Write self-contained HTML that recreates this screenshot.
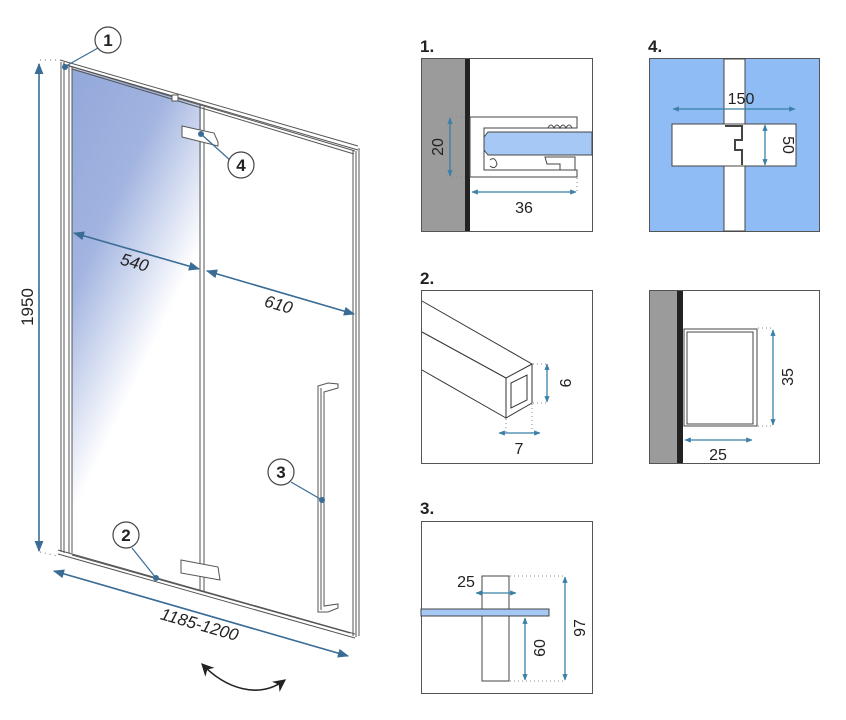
<!DOCTYPE html>
<html><head><meta charset="utf-8"><style>
html,body{margin:0;padding:0;background:#fff;}
svg{display:block;font-family:"Liberation Sans",Arial,sans-serif;}
</style></head><body>
<svg width="846" height="720" viewBox="0 0 846 720" xmlns="http://www.w3.org/2000/svg">
<defs>
<linearGradient id="gl" x1="0" y1="0" x2="0.55" y2="1">
<stop offset="0" stop-color="#92a8da"/>
<stop offset="0.35" stop-color="#a2b4e0"/>
<stop offset="0.7" stop-color="#ffffff"/>
<stop offset="1" stop-color="#ffffff"/>
</linearGradient>
<marker id="ar" viewBox="0 0 10 10" refX="9" refY="5" markerWidth="7" markerHeight="7" orient="auto-start-reverse"><path d="M0,1 L10,5 L0,9 z" fill="#3a6c96"/></marker>
<marker id="as" viewBox="0 0 10 10" refX="9" refY="5" markerWidth="5" markerHeight="5" orient="auto-start-reverse"><path d="M0,1 L10,5 L0,9 z" fill="#3a7fa8"/></marker>
<marker id="ak" viewBox="0 0 10 10" refX="9" refY="5" markerWidth="8" markerHeight="8" orient="auto-start-reverse"><path d="M0,0 L10,5 L0,10 L3,5 z" fill="#222"/></marker>
</defs>

<polygon points="72,68 201,105 201,560 72,548" fill="url(#gl)"/>
<g stroke="#555" fill="none" stroke-width="1">
<line x1="61" y1="62" x2="61" y2="552"/><line x1="64" y1="62" x2="64" y2="553"/>
<line x1="69" y1="64" x2="69" y2="553"/><line x1="72" y1="66" x2="72" y2="553"/>
<line x1="60" y1="60" x2="358" y2="146"/><line x1="63" y1="64" x2="358" y2="150"/>
<line x1="69" y1="66" x2="355" y2="151"/><line x1="72" y1="69" x2="354" y2="154"/>
<line x1="353" y1="150" x2="353" y2="636"/><line x1="356" y1="151" x2="356" y2="637"/><line x1="359" y1="148" x2="359" y2="636"/>
<line x1="58" y1="550" x2="355" y2="634"/><line x1="58" y1="554" x2="355" y2="638"/><line x1="72" y1="555" x2="350" y2="633"/>
<line x1="200" y1="105" x2="200" y2="590"/><line x1="204" y1="107" x2="204" y2="591"/>
<path d="M318,386 L318,612 L328,612 L338,608 L338,604 L324,606 L324,392 L338,388 L338,384 L328,383 Z"/>
<line x1="321" y1="388" x2="321" y2="610"/>
</g>
<rect x="172" y="95" width="6" height="6" fill="#fff" stroke="#555"/>
<path d="M182,126 L214,133 L218,142 L218,146 L182,137 Z" fill="#fff" stroke="#555"/>
<path d="M181,560 L218,567 L220,580 L181,573 Z" fill="#fff" stroke="#555"/>
<g stroke="#3a6c96" stroke-width="1.6" fill="none">
<line x1="39" y1="64" x2="39" y2="551" marker-start="url(#ar)" marker-end="url(#ar)"/>
<line x1="74" y1="233" x2="199" y2="269" marker-start="url(#ar)" marker-end="url(#ar)"/>
<line x1="207" y1="271" x2="354" y2="314" marker-start="url(#ar)" marker-end="url(#ar)"/>
<line x1="54" y1="571" x2="348" y2="656" marker-start="url(#ar)" marker-end="url(#ar)"/>
</g>
<g stroke="#777" stroke-dasharray="1,4" fill="none"><line x1="40" y1="60" x2="58" y2="60"/><line x1="40" y1="552" x2="58" y2="556"/></g>
<g font-size="17" fill="#222">
<text transform="translate(33,307) rotate(-90)" text-anchor="middle">1950</text>
<text transform="translate(133,268) rotate(16)" text-anchor="middle" font-style="italic">540</text>
<text transform="translate(277,310) rotate(16)" text-anchor="middle" font-style="italic">610</text>
<text transform="translate(198,630) rotate(16)" text-anchor="middle" font-style="italic">1185-1200</text>
</g>
<path d="M202,664 C225,688 258,700 285,680" fill="none" stroke="#222" stroke-width="1.6" marker-start="url(#ak)" marker-end="url(#ak)"/>
<g stroke="#3a6c96" stroke-width="1.2"><line x1="98" y1="48" x2="66" y2="66"/><line x1="231" y1="161" x2="201" y2="134"/><line x1="291" y1="482" x2="322" y2="500"/><line x1="132" y1="548" x2="156" y2="578"/></g>
<g fill="#3a6c96"><circle cx="65" cy="67" r="3"/><circle cx="201" cy="134" r="3"/><circle cx="322" cy="500" r="3"/><circle cx="156" cy="578" r="3"/></g>
<g fill="#fff" stroke="#444" stroke-width="1.2"><circle cx="108" cy="40" r="13"/><circle cx="241" cy="165" r="13"/><circle cx="281" cy="472" r="13"/><circle cx="126" cy="535" r="13"/></g>
<g font-size="17" font-weight="bold" fill="#222" text-anchor="middle"><text x="108" y="46">1</text><text x="241" y="171">4</text><text x="281" y="478">3</text><text x="126" y="541">2</text></g>

<g font-size="17" font-weight="bold" fill="#222"><text x="420" y="52">1.</text><text x="648" y="52">4.</text><text x="420" y="284">2.</text><text x="420" y="514">3.</text></g>
<g font-size="15" fill="#222"><text x="513" y="82">1934 mm</text><text x="513" y="313">1135 mm</text><text x="742" y="313">1950 mm</text><text x="520" y="546">900 mm</text></g>

<!-- panel 1 -->
<rect x="421.5" y="58.5" width="171" height="173" fill="#fff" stroke="#555"/>
<rect x="422" y="59" width="43" height="172" fill="#9b9b9b"/>
<rect x="465" y="59" width="5" height="172" fill="#222"/>
<path d="M470,117 L577,117 L577,128 L484,128 L484,170 L577,170 L577,177 L470,177 Z" fill="#fff" stroke="#444"/>
<path d="M488,132 L592,132 L592,155 L488,155 L484,150 L484,137 Z" fill="#a6c8f4" stroke="#444"/>
<path d="M548,128 q3,-6 6,0 q3,-6 6,0 q3,-6 6,0 q3,-6 6,0" fill="none" stroke="#444"/>
<path d="M545,157 L575,157 L575,170 L560,170 L560,164 L547,164 Z" fill="#fff" stroke="#444"/>
<path d="M490,160 q5,-4 7,4 q-2,6 -7,2" fill="none" stroke="#444"/>
<g stroke="#888" stroke-dasharray="1,3"><line x1="452" y1="117" x2="468" y2="117"/><line x1="452" y1="177" x2="468" y2="177"/><line x1="577" y1="178" x2="577" y2="194"/></g>
<g stroke="#3a7fa8" stroke-width="1.3" fill="none"><line x1="450" y1="118" x2="450" y2="176" marker-start="url(#as)" marker-end="url(#as)"/><line x1="472" y1="192" x2="576" y2="192" marker-start="url(#as)" marker-end="url(#as)"/></g>
<g font-size="16" fill="#222"><text transform="translate(443,147) rotate(-90)" text-anchor="middle">20</text><text x="524" y="213" text-anchor="middle">36</text></g>

<!-- panel 4 -->
<rect x="649.5" y="58.5" width="170" height="173" fill="#8fbcf4" stroke="#555"/>
<rect x="724" y="59" width="21" height="172" fill="#fff" stroke="#444"/>
<rect x="672" y="124" width="124" height="42" fill="#fff" stroke="#444"/>
<path d="M725,126 L742,126 L742,140 L735,140 L735,150 L742,150 L742,165" fill="none" stroke="#444" stroke-width="2"/>
<g stroke="#3a7fa8" stroke-width="1.3" fill="none"><line x1="673" y1="109" x2="795" y2="109" marker-start="url(#as)" marker-end="url(#as)"/><line x1="765" y1="125" x2="765" y2="165" marker-start="url(#as)" marker-end="url(#as)"/></g>
<g font-size="16" fill="#222"><text x="741" y="104" text-anchor="middle">150</text><text transform="translate(783,145) rotate(90)" text-anchor="middle">50</text></g>

<!-- panel 2 -->
<rect x="421.5" y="290.5" width="171" height="173" fill="#fff" stroke="#555"/>
<g stroke="#333" fill="none"><line x1="422" y1="301" x2="532" y2="364"/><line x1="422" y1="332" x2="506" y2="378"/><line x1="422" y1="370" x2="506" y2="418"/>
<polygon points="506,378 532,364 532,403 506,418" fill="#fff"/><polygon points="511,383 527,375 527,400 511,408"/></g>
<g stroke="#888" stroke-dasharray="1,3"><line x1="533" y1="364" x2="549" y2="364"/><line x1="533" y1="403" x2="549" y2="403"/><line x1="506" y1="419" x2="506" y2="434"/><line x1="532" y1="404" x2="532" y2="434"/></g>
<g stroke="#3a7fa8" stroke-width="1.3" fill="none"><line x1="547" y1="364" x2="547" y2="402" marker-start="url(#as)" marker-end="url(#as)"/><line x1="499" y1="433" x2="540" y2="433" marker-start="url(#as)" marker-end="url(#as)"/></g>
<g font-size="16" fill="#222"><text transform="translate(560,383) rotate(90)" text-anchor="middle">9</text><text x="519" y="454" text-anchor="middle">7</text></g>

<!-- panel 1950 -->
<rect x="649.5" y="290.5" width="170" height="173" fill="#fff" stroke="#555"/>
<rect x="650" y="291" width="27" height="172" fill="#9b9b9b"/>
<rect x="677" y="291" width="6" height="172" fill="#222"/>
<rect x="684" y="329" width="73" height="97" fill="#fff" stroke="#444"/>
<rect x="687" y="332" width="66" height="92" fill="none" stroke="#444"/>
<g stroke="#888" stroke-dasharray="1,3"><line x1="758" y1="328" x2="772" y2="328"/><line x1="758" y1="426" x2="772" y2="426"/></g>
<g stroke="#3a7fa8" stroke-width="1.3" fill="none"><line x1="773" y1="330" x2="773" y2="425" marker-start="url(#as)" marker-end="url(#as)"/><line x1="685" y1="440" x2="752" y2="440" marker-start="url(#as)" marker-end="url(#as)"/></g>
<g font-size="16" fill="#222"><text transform="translate(793,377) rotate(-90)" text-anchor="middle">35</text><text x="718" y="460" text-anchor="middle">25</text></g>

<!-- panel 3 -->
<rect x="421.5" y="521.5" width="171" height="172" fill="#fff" stroke="#555"/>
<rect x="482" y="576" width="27" height="105" fill="#fff" stroke="#444"/>
<rect x="421" y="609" width="128" height="7" fill="#a6c8f4" stroke="#444"/>
<g stroke="#888" stroke-dasharray="1,3"><line x1="510" y1="576" x2="566" y2="576"/><line x1="510" y1="681" x2="566" y2="681"/></g>
<g stroke="#3a7fa8" stroke-width="1.3" fill="none"><line x1="476" y1="593" x2="516" y2="593" marker-start="url(#as)" marker-end="url(#as)"/><line x1="525" y1="618" x2="525" y2="680" marker-start="url(#as)" marker-end="url(#as)"/><line x1="565" y1="577" x2="565" y2="680" marker-start="url(#as)" marker-end="url(#as)"/></g>
<g font-size="16" fill="#222"><text x="466" y="587" text-anchor="middle">25</text><text transform="translate(545,648) rotate(-90)" text-anchor="middle">60</text><text transform="translate(585,628) rotate(-90)" text-anchor="middle">97</text></g>
</svg>
</body></html>
